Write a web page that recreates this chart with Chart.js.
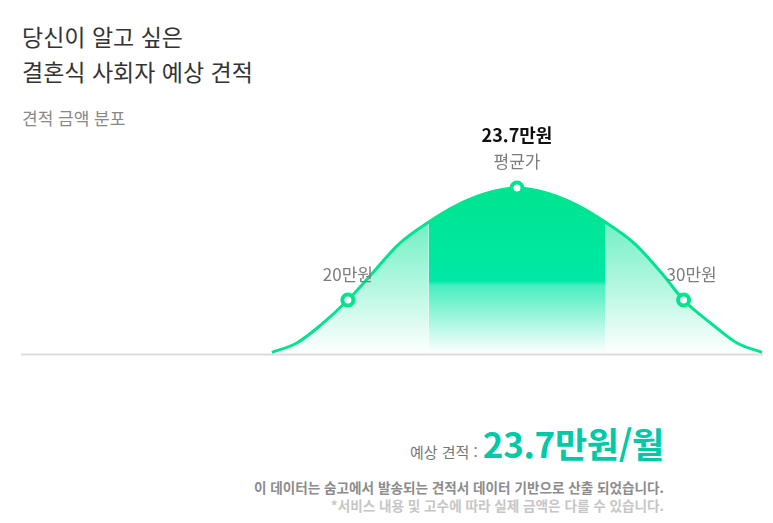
<!DOCTYPE html>
<html lang="ko">
<head>
<meta charset="utf-8">
<script src="https://cdn.jsdelivr.net/npm/chart.js@4.4.1/dist/chart.umd.min.js"></script>
<style>
  html, body { margin: 0; padding: 0; background: #fff; }
  body { width: 773px; height: 523px; position: relative; overflow: hidden;
         font-family: "Noto Sans CJK KR", "Noto Sans", sans-serif; }
  #title { position: absolute; left: 22px; top: 19px; font-size: 23px; line-height: 35px; color: #333; }
  #subtitle { position: absolute; left: 22px; top: 106px; font-size: 17px; line-height: 24px; color: #888; }
  #chartBox { position: absolute; left: 21px; top: 110px; width: 742px; height: 246px; }
  #estimate { position: absolute; right: 109px; top: 423px; line-height: 40px; white-space: nowrap; }
  #estimate .lbl { font-size: 15px; color: #777; margin-right: 5px; }
  #estimate .val { font-size: 35px; font-weight: bold; color: #00c9a7; letter-spacing: -0.3px; }
  .note { position: absolute; right: 109px; font-size: 13.6px; line-height: 18px; white-space: nowrap; font-weight: bold; }
  #note1 { top: 478px; color: #8c8c8c; }
  #note2 { top: 496px; color: #c6c6c6; }
</style>
</head>
<body>
<div id="title">당신이 알고 싶은<br>결혼식 사회자 예상 견적</div>
<div id="subtitle">견적 금액 분포</div>
<div id="chartBox"><canvas id="c"></canvas></div>
<div id="estimate"><span class="lbl">예상 견적 :</span><span class="val" id="estVal"></span></div>
<div class="note" id="note1">이 데이터는 숨고에서 발송되는 견적서 데이터 기반으로 산출 되었습니다.</div>
<div class="note" id="note2">*서비스 내용 및 고수에 따라 실제 금액은 다를 수 있습니다.</div>
<script>
// ---- data ----
const xs        = [0, 5, 10, 15.5, 20, 26, 32, 38, 44, 50, 56, 62, 68, 74, 80, 84, 90, 95, 100];
const density   = [1, 6.5, 17.5, 32.5, 47, 66.5, 79.5, 90, 97, 100, 97, 90, 79.5, 66.5, 47, 32.5, 17.5, 6.5, 1];
const markerXs     = [15.5, 50, 84];
const markerValues = [32.5, 100, 32.5];
const markerLabels = ['20만원', '평균가', '30만원'];
const avgLabel     = '23.7만원';
const estimateText = '23.7만원/월';
const band         = [32, 68];

document.getElementById('estVal').textContent = estimateText;

const lineColor = '#00e48f';
const pts = (keep) => xs.map((x, i) => ({ x: x, y: density[i] })).filter(p => keep(p.x));

function yPix(chart, v) { return chart.scales.y.getPixelForValue(v); }

function sideGradient(ctx) {
  const chart = ctx.chart;
  if (!chart.chartArea) return 'rgba(0,228,150,0.3)';
  const g = chart.ctx.createLinearGradient(0, yPix(chart, 100), 0, yPix(chart, 0));
  g.addColorStop(0, 'rgba(0,228,150,0.68)');
  g.addColorStop(0.5, 'rgba(0,228,150,0.36)');
  g.addColorStop(1, 'rgba(0,228,150,0)');
  return g;
}
function centerGradient(ctx) {
  const chart = ctx.chart;
  if (!chart.chartArea) return 'rgb(0,228,143)';
  const g = chart.ctx.createLinearGradient(0, yPix(chart, 100), 0, yPix(chart, 0));
  g.addColorStop(0, 'rgb(0,228,143)');
  g.addColorStop(0.56, 'rgb(0,232,166)');
  g.addColorStop(0.585, 'rgba(0,232,166,0.72)');
  g.addColorStop(1, 'rgba(0,232,166,0)');
  return g;
}

const baselinePlugin = {
  id: 'baseline',
  beforeDatasetsDraw(chart) {
    const c = chart.ctx, a = chart.chartArea;
    const y = yPix(chart, 0) + 0.5;
    c.save();
    c.strokeStyle = '#dcdcdc';
    c.lineWidth = 2;
    c.beginPath(); c.moveTo(a.left, y); c.lineTo(a.right, y); c.stroke();
    c.restore();
  }
};

const labelPlugin = {
  id: 'markerLabels',
  afterDatasetsDraw(chart) {
    const c = chart.ctx;
    const meta = chart.getDatasetMeta(0);
    c.save();
    c.textAlign = 'center';
    c.textBaseline = 'middle';
    meta.data.forEach((p, i) => {
      c.font = '17px "Noto Sans CJK KR", sans-serif';
      c.fillStyle = '#7d7d7d';
      const dx = i === markerLabels.length - 1 ? 8 : 0;
      c.fillText(markerLabels[i], p.x + dx, p.y - 26);
      if (i === 1) {
        c.font = 'bold 18px "Noto Sans CJK KR", sans-serif';
        c.fillStyle = '#111';
        c.fillText(avgLabel, p.x, p.y - 53);
      }
    });
    c.restore();
  }
};

new Chart(document.getElementById('c'), {
  type: 'line',
  data: {
    datasets: [
      { data: markerXs.map((x, i) => ({ x: x, y: markerValues[i] })), showLine: false,
        pointRadius: 5.5, pointBorderWidth: 4, pointBackgroundColor: '#fff',
        pointBorderColor: lineColor, clip: false },
      { data: pts(() => true), borderColor: lineColor, borderWidth: 3, pointRadius: 0,
        fill: false, cubicInterpolationMode: 'monotone', clip: false },
      { data: pts(x => x >= band[0] && x <= band[1]), borderWidth: 0, borderColor: 'transparent',
        pointRadius: 0, fill: 'origin', backgroundColor: centerGradient, cubicInterpolationMode: 'monotone' },
      { data: pts(x => x <= band[0]), borderWidth: 0, borderColor: 'transparent',
        pointRadius: 0, fill: 'origin', backgroundColor: sideGradient, cubicInterpolationMode: 'monotone' },
      { data: pts(x => x >= band[1]), borderWidth: 0, borderColor: 'transparent',
        pointRadius: 0, fill: 'origin', backgroundColor: sideGradient, cubicInterpolationMode: 'monotone' }
    ]
  },
  options: {
    responsive: true,
    maintainAspectRatio: false,
    animation: false,
    events: [],
    layout: { padding: 0, autoPadding: false },
    plugins: { legend: { display: false }, tooltip: { enabled: false } },
    scales: {
      x: { type: 'linear', display: false, min: -51.2, max: 100.2 },
      y: { display: false, min: -1.2, max: 147 }
    }
  },
  plugins: [baselinePlugin, labelPlugin]
});
</script>
</body>
</html>
